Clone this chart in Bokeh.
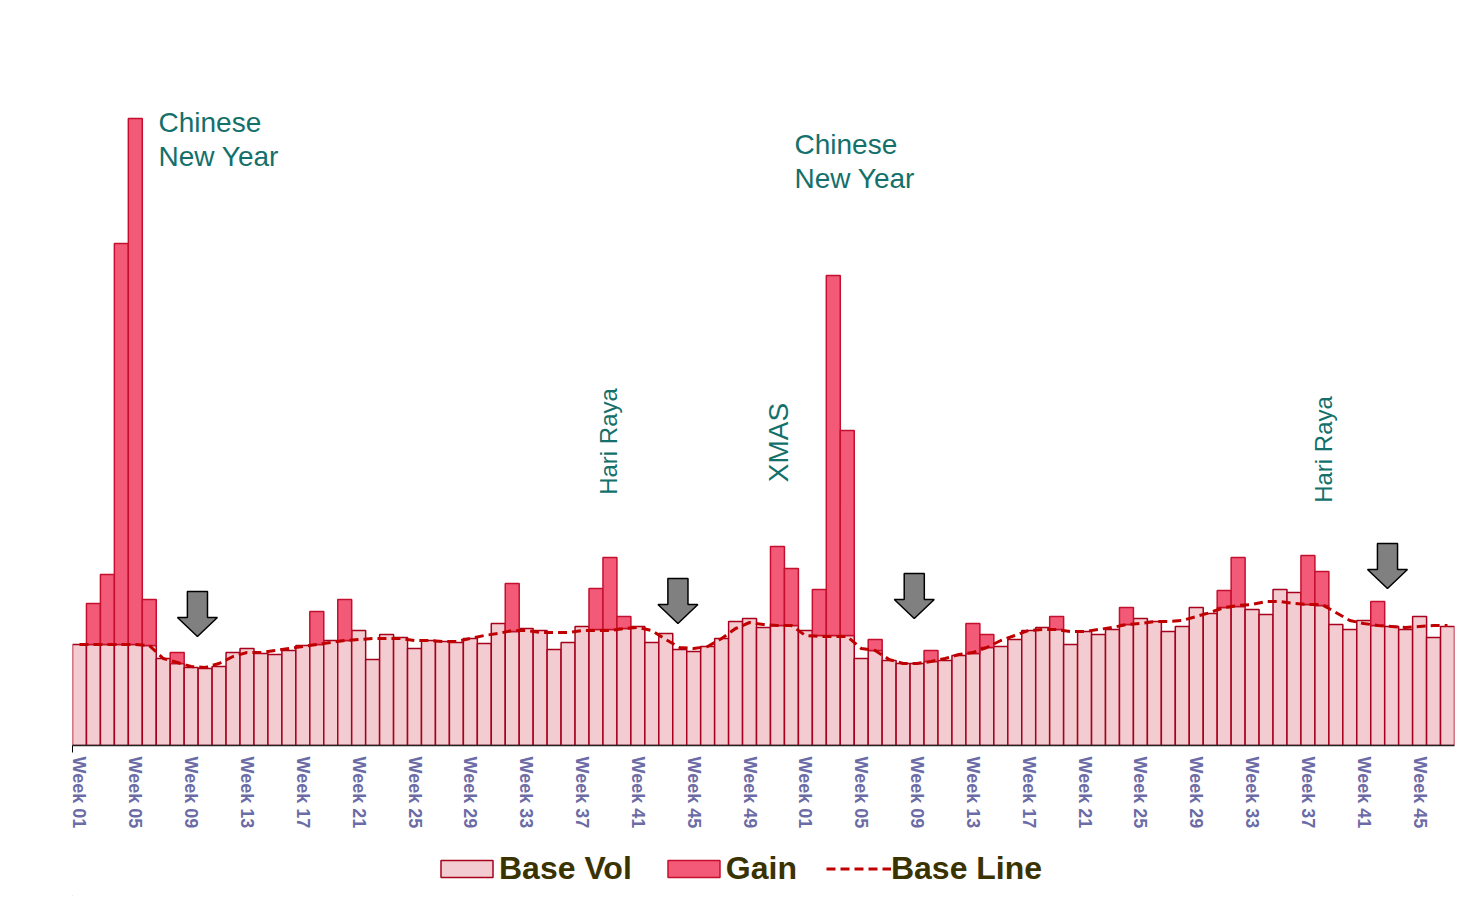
import math
from bokeh.plotting import figure
from bokeh.layouts import column
from bokeh.models import (ColumnDataSource, Range1d, FixedTicker, Legend, LegendItem)
from bokeh.core.properties import value
from bokeh.embed import file_html
from bokeh.resources import INLINE

# ---------------- data ----------------
weeks = [f"Week {i:02d}" for i in range(1, 53)] + [f"Week {i:02d}" for i in range(1, 48)]

base_vol = [101, 101, 101, 101, 101, 100, 87, 82, 78, 77,
            79, 93, 97, 92, 91, 95, 100, 101, 105, 105,
            115, 86, 111, 108, 97, 105, 104, 103, 107, 102,
            122, 114, 117, 115, 96, 103, 119, 116, 116, 117,
            119, 103, 112, 96, 94, 99, 107, 124, 127, 118,
            120, 120, 115, 110, 110, 110, 87, 95, 85, 82,
            82, 84, 85, 90, 92, 98, 99, 106, 115, 118,
            116, 101, 114, 111, 116, 121, 127, 124, 114, 119,
            138, 132, 138, 139, 136, 131, 156, 153, 141, 140,
            121, 116, 125, 120, 119, 116, 129, 108, 119]

gain = [0, 41, 70, 401, 526, 46, 0, 11, 0, 0,
        0, 0, 0, 0, 0, 0, 0, 33, 0, 41,
        0, 0, 0, 0, 0, 0, 0, 0, 0, 0,
        0, 48, 0, 0, 0, 0, 0, 41, 72, 12,
        0, 0, 0, 0, 0, 0, 0, 0, 0, 0,
        79, 57, 0, 46, 360, 205, 0, 11, 0, 0,
        0, 11, 0, 0, 30, 13, 0, 0, 0, 0,
        13, 0, 0, 0, 0, 17, 0, 0, 0, 0,
        0, 0, 17, 49, 0, 0, 0, 0, 49, 34,
        0, 0, 0, 24, 0, 0, 0, 0, 0]

base_line = [101, 101, 101, 101, 101, 100, 87, 83, 79, 78,
             82, 89, 93, 93, 95, 97, 99, 101, 103, 105,
             106, 107, 107, 107, 105, 105, 104, 104, 107, 110,
             112, 115, 115, 113, 113, 113, 115, 115, 115, 117,
             118, 115, 106, 98, 97, 99, 107, 117, 123, 121,
             120, 120, 110, 109, 109, 109, 97, 95, 86, 82,
             82, 84, 87, 91, 93, 98, 105, 110, 115, 116,
             116, 114, 114, 116, 118, 121, 122, 124, 124, 125,
             129, 133, 138, 140, 141, 144, 144, 142, 141, 141,
             133, 125, 122, 120, 119, 118, 119, 120, 120]

tick_idx = list(range(0, len(weeks), 4))
tick_labels = [weeks[i] for i in tick_idx]

series_names = ["Base Vol", "Gain", "Base Line"]

# event annotations
note_text = ["Chinese\nNew Year", "Chinese\nNew Year"]
note_x = [5.66, 51.22]
note_y = [639, 617]

vnote_text = ["Hari Raya", "XMAS", "Hari Raya"]
vnote_x = [37.9, 50.07, 89.1]
vnote_y = [304, 303, 296]
vnote_size = ["24px", "28px", "24px"]

arrow_x = [8.45, 42.87, 59.8, 93.7]
arrow_top = [154, 167, 172, 202]

# ---------------- styling ----------------
FONT = "Liberation Sans"
BASE_FILL = "#f2ccd1"
BASE_LINE = "#a8001c"
GAIN_FILL = "#f25a77"
GAIN_LINE = "#c4102e"
DASH_COL = "#c00000"
NOTE_COL = "#13706a"

n = len(weeks)
xs = list(range(n))

p = figure(frame_width=1382, frame_height=700,
           min_border_left=72, min_border_right=15, min_border_top=45, min_border_bottom=0,
           x_range=Range1d(-0.5, n - 0.5), y_range=Range1d(0, 700),
           output_backend="svg", toolbar_location=None)
p.outline_line_color = None
p.xgrid.visible = False
p.ygrid.visible = False
p.yaxis.visible = False
p.background_fill_color = "white"
p.border_fill_color = "white"

src = ColumnDataSource(dict(x=xs, base=base_vol, line=base_line))
gx = [i for i in xs if gain[i] > 0]
gsrc = ColumnDataSource(dict(x=gx, bottom=[base_vol[i] for i in gx],
                             top=[base_vol[i] + gain[i] for i in gx]))

p.vbar(x="x", top="base", width=1.0, source=src,
       fill_color=BASE_FILL, line_color=BASE_LINE, line_width=1.5)
p.vbar(x="x", bottom="bottom", top="top", width=1.0, source=gsrc,
       fill_color=GAIN_FILL, line_color=GAIN_LINE, line_width=1.5)
p.line(x="x", y="line", source=src, line_color=DASH_COL,
       line_width=3, line_dash="9 5")

# arrows (down pointing)
sw, hw = 0.72, 1.43
shaft, total = 26, 45
axs, ays = [], []
for cx, ty in zip(arrow_x, arrow_top):
    axs.append([cx - sw, cx + sw, cx + sw, cx + hw, cx, cx - hw, cx - sw])
    ays.append([ty, ty, ty - shaft, ty - shaft, ty - total, ty - shaft, ty - shaft])
p.patches(axs, ays, fill_color="#808080", line_color="black", line_width=1.5)

# annotations
p.text(x=note_x, y=note_y, text=note_text, text_font=value(FONT),
       text_font_size="28px", text_color=NOTE_COL, text_baseline="top",
       text_align="left", text_line_height=1.1)
p.text(x=vnote_x, y=vnote_y, text=vnote_text, text_font=value(FONT),
       text_font_size=vnote_size, text_color=NOTE_COL, text_baseline="middle",
       text_align="center", angle=math.pi / 2)

# x axis
ax = p.xaxis[0]
ax.ticker = FixedTicker(ticks=tick_idx, minor_ticks=[-0.5])
ax.major_label_overrides = {i: lab for i, lab in zip(tick_idx, tick_labels)}
ax.major_label_orientation = "vertical"
ax.major_label_text_font = FONT
ax.major_label_text_font_style = "bold"
ax.major_label_text_font_size = "18px"
ax.major_label_text_color = "#6b6ba6"
ax.major_label_standoff = 4
ax.major_tick_line_color = None
ax.minor_tick_line_color = "black"
ax.minor_tick_out = 7
ax.minor_tick_in = 0
ax.axis_line_color = "#222222"
ax.axis_line_width = 1.5

# ---------------- legend strip ----------------
q = figure(width=1469, height=65, min_border=0,
           x_range=Range1d(0, 1), y_range=Range1d(0, 1),
           output_backend="svg", toolbar_location=None)
q.outline_line_color = None
q.xgrid.visible = False
q.ygrid.visible = False
q.xaxis.visible = False
q.yaxis.visible = False

# proxy glyphs for the legend (placed outside the strip's visible range)
l_base = q.vbar(x=[-5], top=[0], width=1.0, fill_color=BASE_FILL,
                line_color=BASE_LINE, line_width=1.5)
l_gain = q.vbar(x=[-5], top=[0], width=1.0, fill_color=GAIN_FILL,
                line_color=GAIN_LINE, line_width=1.5)
l_line = q.line(x=[-6, -5], y=[0, 0], line_color=DASH_COL, line_width=3, line_dash="9 5")

legend = Legend(items=[LegendItem(label=series_names[0], renderers=[l_base]),
                       LegendItem(label=series_names[1], renderers=[l_gain]),
                       LegendItem(label=series_names[2], renderers=[l_line])],
                orientation="horizontal", location=(362, 9),
                label_text_font=FONT, label_text_font_style="bold",
                label_text_font_size="32px", label_text_color="#3a3300",
                glyph_width=65, glyph_height=21, label_standoff=0, spacing=29,
                border_line_color=None, background_fill_alpha=0,
                padding=0, margin=0)
q.add_layout(legend, "center")

layout = column(p, q, spacing=0)
open("out.html", "w").write(file_html(layout, INLINE))
